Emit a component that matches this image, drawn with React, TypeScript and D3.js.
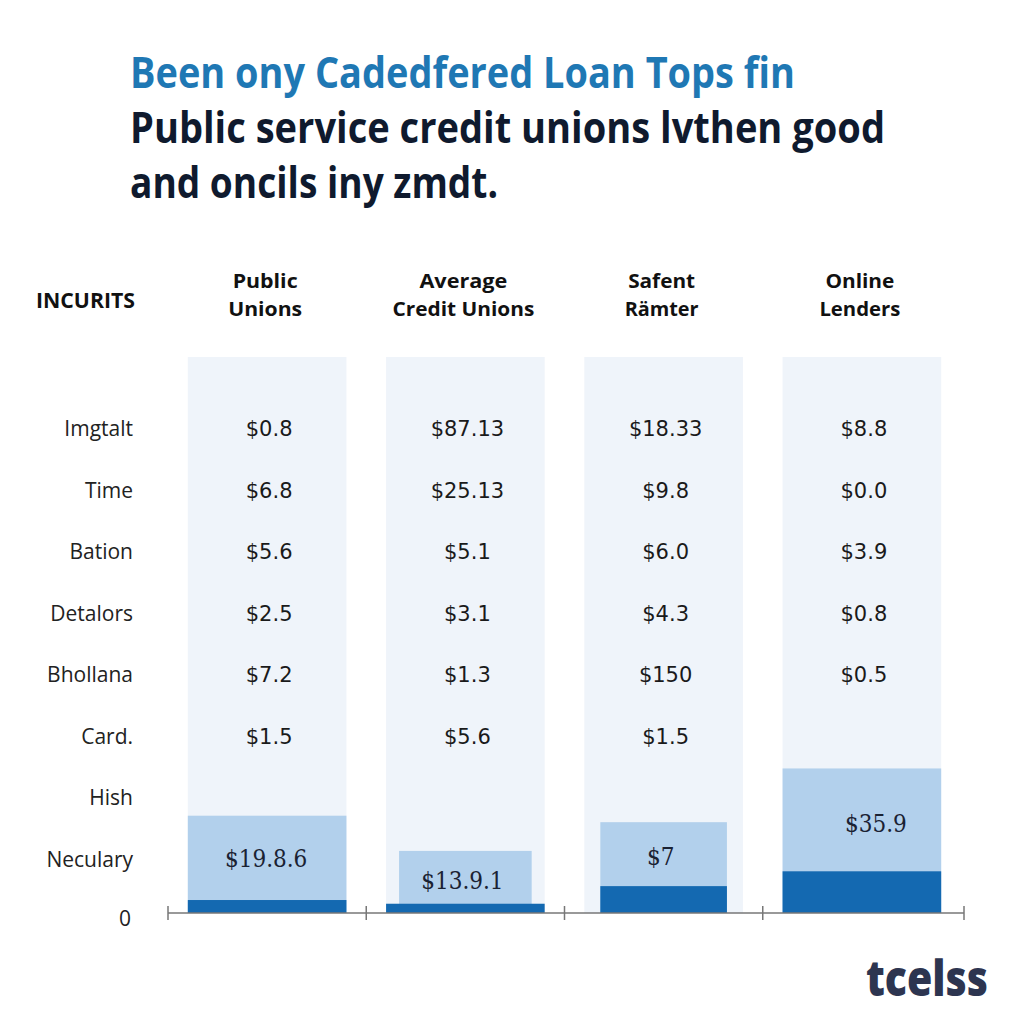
import React from "react";
import * as d3 from "d3";

const titleLines = [
  "Been ony Cadedfered Loan Tops fin",
  "Public service credit unions lvthen good",
  "and oncils iny zmdt.",
];
const categories = ["Public Unions", "Average Credit Unions", "Safent Rämter", "Online Lenders"];
const headerLines = [["Public", "Unions"], ["Average", "Credit Unions"], ["Safent", "Rämter"], ["Online", "Lenders"]];
const rowLabels = ["Imgtalt", "Time", "Bation", "Detalors", "Bhollana", "Card.", "Hish", "Neculary"];
const tableValues: string[][] = [
  ["$0.8", "$87.13", "$18.33", "$8.8"],
  ["$6.8", "$25.13", "$9.8", "$0.0"],
  ["$5.6", "$5.1", "$6.0", "$3.9"],
  ["$2.5", "$3.1", "$4.3", "$0.8"],
  ["$7.2", "$1.3", "$150", "$0.5"],
  ["$1.5", "$5.6", "$1.5", ""],
];
const totalValues = [10.5, 6.7, 9.8, 15.6];
const baseValues = [1.4, 1.0, 2.9, 4.5];
const barLabels = ["$19.8.6", "$13.9.1", "$7", "$35.9"];
const labelValues = [5.9, 3.6, 6.1, 9.7];
const lightInset = [0, 13, 16, 0];
const darkInset = [0, 0, 16, 0];
const labelShift = [-1, -3, -3, 14];
const headerWidths = [[65, 74], [88, 142], [67, 74], [69, 81]];

export default function App() {
  const W = 1024, H = 1024;
  const x = d3.scaleBand<string>().domain(categories).range([168, 961]).paddingInner(0.2).paddingOuter(0.1);
  const y = d3.scaleLinear().domain([0, 60]).range([913, 357]);
  const rowY = d3.scalePoint<string>().domain(rowLabels).range([428, 859]);
  const bw = x.bandwidth();
  const step = x.step();
  const ticks = categories.map((c) => (x(c) as number) - (step - bw) / 2);
  ticks.push((x(categories[3]) as number) + bw + (step - bw) / 2 + 3);
  const sans = "'Open Sans', 'DejaVu Sans', sans-serif";
  return (
    <svg width={W} height={H} style={{ position: "absolute", left: 0, top: 0, background: "#fff" }}>
      <rect x={0} y={0} width={W} height={H} fill="#fff" />
      {titleLines.map((t, i) => (
        <text key={i} x={130} y={88 + i * 55} fontFamily={sans} fontWeight={700} fontSize={43}
          fill={i === 0 ? "#1f78b4" : "#0f1a2e"} textLength={[665, 755, 368][i]} lengthAdjust="spacingAndGlyphs">{t}</text>
      ))}
      <text x={36} y={308} fontFamily={sans} fontWeight={700} fontSize={21} fill="#111" textLength={99} lengthAdjust="spacingAndGlyphs">INCURITS</text>
      {categories.map((c, i) => {
        const cx = (x(c) as number) + bw / 2;
        return (
          <g key={c}>
            {headerLines[i].map((l, j) => (
              <text key={j} x={cx - 2} y={288 + j * 28} textAnchor="middle" fontFamily={sans} fontWeight={700} fontSize={20} fill="#111"
                textLength={headerWidths[i][j]} lengthAdjust="spacingAndGlyphs">{l}</text>
            ))}
            <rect x={x(c)} y={y(60)} width={bw} height={y(0) - y(60)} fill="#eff4fa" />
          </g>
        );
      })}
      {rowLabels.map((r) => (
        <text key={r} x={133} y={(rowY(r) as number) + 8} textAnchor="end" fontFamily={sans} fontSize={21} fill="#222">{r}</text>
      ))}
      <text x={125} y={926} textAnchor="middle" fontFamily={sans} fontSize={21} fill="#222">0</text>
      {tableValues.map((row, ri) =>
        row.map((v, ci) => (
          <text key={ri + "-" + ci} x={(x(categories[ci]) as number) + bw / 2 + 2} y={(rowY(rowLabels[ri]) as number) + 8}
            textAnchor="middle" fontFamily="'DejaVu Sans', sans-serif" fontSize={21} fill="#1a1a1a">{v}</text>
        ))
      )}
      {categories.map((c, i) => {
        const x0 = x(c) as number;
        return (
          <g key={"b" + c}>
            <rect x={x0 + lightInset[i]} y={y(totalValues[i])} width={bw - lightInset[i] * 2} height={y(0) - y(totalValues[i])} fill="#b2d0ec" />
            <rect x={x0 + darkInset[i]} y={y(baseValues[i])} width={bw - darkInset[i] * 2} height={y(0) - y(baseValues[i])} fill="#1469b1" />
            <text x={x0 + bw / 2 + labelShift[i]} y={y(labelValues[i]) + 9} textAnchor="middle" fontFamily="'DejaVu Serif Condensed', 'DejaVu Serif', serif" fontSize={24} fill="#1a2233">{barLabels[i]}</text>
          </g>
        );
      })}
      <line x1={ticks[0]} x2={ticks[4]} y1={913} y2={913} stroke="#777" strokeWidth={1.5} />
      {ticks.map((t, i) => (
        <line key={i} x1={t} x2={t} y1={906} y2={920} stroke="#777" strokeWidth={1.5} />
      ))}
      <text x={866} y={996} fontFamily={sans} fontWeight={800} fontSize={50} fill="#2d3550" textLength={122} lengthAdjust="spacingAndGlyphs">tcelss</text>
    </svg>
  );
}
